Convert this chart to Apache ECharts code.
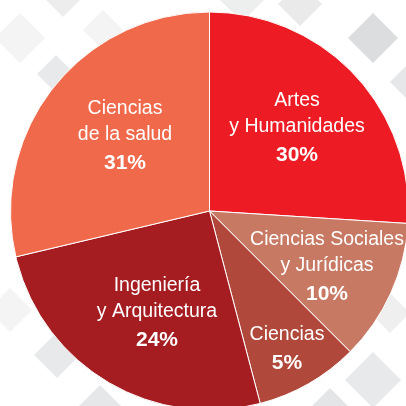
<!DOCTYPE html>
<html>
<head>
<meta charset="utf-8">
<script src="https://cdn.jsdelivr.net/npm/echarts@6/dist/echarts.min.js"></script>
<style>
html, body { margin: 0; padding: 0; background: #fff; }
#chart { width: 406px; height: 406px; }
</style>
</head>
<body>
<div id="chart"></div>
<script>
// áreas de conocimiento, en sentido horario desde las 12
const areas = ['Artes\ny Humanidades', 'Ciencias Sociales\ny Jurídicas', 'Ciencias', 'Ingeniería\ny Arquitectura', 'Ciencias\nde la salud']
// porcentaje rotulado en cada sector
const porcentajes = [30, 10, 5, 24, 31]
// tamaño de cada sector tal como está dibujado (% de la vuelta)
const sectores = [26.0, 11.5, 8.4, 25.4, 28.7]
const colores = ['#ED1C24', '#C77964', '#B0483B', '#A51C21', '#F0694B']

// centro de cada rótulo
const posRotulos = [[297, 129], [327, 268], [287, 350], [157, 314], [125, 137]]

// rombos grises del fondo: [x, y, semidiagonal, color]
const rombos = [
  [63, -5, 22, '#EDEDEE'], [20, 38, 25, '#F4F4F4'], [103, 30, 20, '#F4F4F4'],
  [56, 74, 19, '#E8E9EA'], [242, 0, 22, '#EDEEEE'], [300, 4, 22, '#EAEAEB'],
  [373, 38, 25, '#DCDDDE'], [410, 82, 20, '#E6E7E8'], [10, 310, 22, '#F4F4F4'],
  [57, 355, 23, '#E8E9EA'], [100, 410, 25, '#E6E7E8'], [390, 313, 20, '#EFEFF0'],
  [373, 380, 28, '#E8E9EA'], [330, 410, 22, '#E4E5E6']
]

const chart = echarts.init(document.getElementById('chart'))

const datos = areas.map((nombre, i) => {
  return {
    name: nombre,
    value: sectores[i],
    pct: porcentajes[i],
    itemStyle: { color: colores[i] }
  }
})

chart.setOption({
  animation: false,
  backgroundColor: '#fff',
  graphic: rombos.map(r => {
    return {
      type: 'polygon',
      z: -10,
      silent: true,
      shape: { points: [[r[0], r[1] - r[2]], [r[0] + r[2], r[1]], [r[0], r[1] + r[2]], [r[0] - r[2], r[1]]] },
      style: { fill: r[3] }
    }
  }),
  series: [{
    type: 'pie',
    center: [209.5, 211],
    radius: 199,
    startAngle: 90,
    clockwise: true,
    silent: true,
    emphasis: { disabled: true },
    itemStyle: { borderColor: '#fff', borderWidth: 1 },
    label: {
      show: true,
      position: 'inside',
      align: 'center',
      verticalAlign: 'middle',
      color: '#fff',
      formatter: function (p) {
        const lineas = p.name.split('\n').map(l => '{n|' + l + '}')
        return lineas.join('\n') + '\n{p|' + p.data.pct + '%}'
      },
      rich: {
        n: { fontFamily: 'Liberation Sans', fontSize: 19.5, lineHeight: 26, color: '#fff' },
        p: { fontFamily: 'Liberation Sans', fontSize: 21, fontWeight: 'bold', lineHeight: 30, color: '#fff' }
      }
    },
    labelLine: { show: false },
    labelLayout: function (params) {
      const pos = posRotulos[params.dataIndex]
      return { x: pos[0], y: pos[1] }
    },
    data: datos
  }]
})
</script>
</body>
</html>
